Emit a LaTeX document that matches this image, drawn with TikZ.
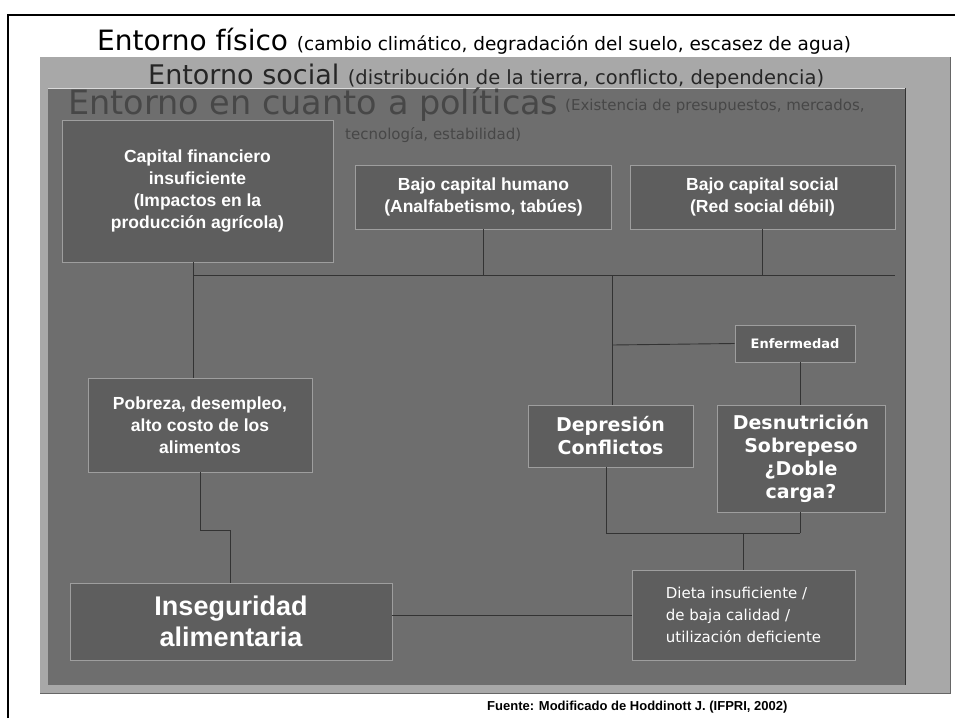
\documentclass[tikz,border=0pt]{standalone}
\usepackage{fontspec}
\setmainfont{DejaVu Sans}
\newfontfamily\arialf{Liberation Sans}
\usetikzlibrary{arrows.meta}
\definecolor{socialgray}{gray}{0.66}
\definecolor{polgray}{gray}{0.43}
\definecolor{boxgray}{gray}{0.37}
\definecolor{boxedge}{gray}{0.62}
\tikzset{
  box/.style={draw=boxedge, line width=0.8pt, fill=boxgray, text=white, align=center, inner sep=2pt},
  abox/.style={box, font=\arialf\bfseries\fontsize{17.5}{22}\selectfont},
  dbox/.style={box, font=\bfseries\fontsize{19}{23}\selectfont},
  conn/.style={draw=black!80, line width=0.9pt},
}
\begin{document}
\begin{tikzpicture}[x=1pt,y=-1pt]
\useasboundingbox (0,0) rectangle (955,718);
\fill[white] (0,0) rectangle (955,718);
% frame
\draw[line width=1.2pt] (8,718) -- (8,15) -- (955,15);
% social region
\fill[socialgray] (40,57) rectangle (950,693);
\draw[black!60, line width=0.6pt] (40,693) -- (950,693) -- (950,57);
% policy region
\fill[polgray] (48,88) rectangle (905,685);
\draw[white!85!black, line width=1pt] (48,88) -- (905,88);
\draw[black!80, line width=1pt] (905,88) -- (905,685);
% titles
\node[anchor=base west, inner sep=0] (tfis) at (97,50) {\fontsize{28}{30}\selectfont Entorno físico \fontsize{18.5}{20}\selectfont(cambio climático, degradación del suelo, escasez de agua)};
\node[anchor=base west, inner sep=0, text=black!85] (tsoc) at (148,84) {\fontsize{27}{30}\selectfont Entorno social \fontsize{19.5}{21}\selectfont(distribución de la tierra, conflicto, dependencia)};
\node[anchor=base west, inner sep=0, text=black!72] (tpol) at (68,114) {\fontsize{33.5}{35}\selectfont Entorno en cuanto a políticas};
\node[anchor=base west, inner sep=0, text=black!72] (tpol2) at (565,110) {\fontsize{15}{17}\selectfont(Existencia de presupuestos, mercados,};
\node[anchor=base west, inner sep=0, text=black!72] (tpol3) at (345,139) {\fontsize{15}{17}\selectfont tecnología, estabilidad)};
% boxes
\node[abox, minimum width=271pt, minimum height=142pt] (cap) at (197.5,191) {Capital financiero\\insuficiente\\(Impactos en la\\producción agrícola)};
\node[abox, minimum width=256pt, minimum height=64pt] (hum) at (483.5,197) {Bajo capital humano\\(Analfabetismo, tabúes)};
\node[abox, minimum width=265pt, minimum height=64pt] (soc) at (762.5,197) {Bajo capital social\\(Red social débil)};
\node[box, font=\bfseries\fontsize{13}{15}\selectfont, minimum width=120pt, minimum height=37pt] (enf) at (795,343.5) {Enfermedad};
\node[abox, minimum width=224pt, minimum height=94pt] (pob) at (200,425) {Pobreza, desempleo,\\alto costo de los\\alimentos};
\node[dbox, minimum width=165pt, minimum height=62pt] (dep) at (610.5,436) {Depresión\\Conflictos};
\node[dbox, minimum width=168pt, minimum height=107pt] (des) at (801,458.5) {Desnutrición\\Sobrepeso\\¿Doble\\carga?};
\node[box, font=\arialf\bfseries\fontsize{27}{31}\selectfont, minimum width=322pt, minimum height=77pt] (ins) at (231,621.5) {Inseguridad\\alimentaria};
\node[box, font=\fontsize{15}{22}\selectfont, align=left, minimum width=223pt, minimum height=90pt] (die) at (743.5,615) {Dieta insuficiente /\\de baja calidad /\\utilización deficiente};
% connectors
\coordinate (h1) at (193,275);
\coordinate (h2) at (895,275);
\coordinate (jn) at (612,345);
\coordinate (p1) at (200,530);
\coordinate (p2) at (230,530);
\coordinate (d1) at (606,533);
\coordinate (d2) at (800,533);
\draw[conn] (cap.south -| h1) -- (h1 |- pob.north);
\draw[conn] (h1) -- (h2);
\draw[conn] (hum.south) -- (hum.south |- h1);
\draw[conn] (soc.south) -- (soc.south |- h1);
\draw[conn] (jn |- h1) -- (jn |- dep.north);
\draw[conn] (enf.west) -- (jn);
\draw[conn] (enf.south -| d2) -- (d2 |- des.north);
\draw[conn] (pob.south) -- (p1) -- (p2) -- (p2 |- ins.north);
\draw[conn] (dep.south -| d1) -- (d1) -- (d2);
\draw[conn] (des.south -| d2) -- (d2);
\draw[conn] (die.north |- d1) -- (die.north);
\draw[conn] (die.west) -- (ins.east |- die.west);
% source
\node[anchor=base west, inner sep=0, font=\arialf\bfseries\fontsize{13}{15}\selectfont] (src) at (487,710) {Fuente: Modificado de Hoddinott J. (IFPRI, 2002)};
\end{tikzpicture}
\end{document}
